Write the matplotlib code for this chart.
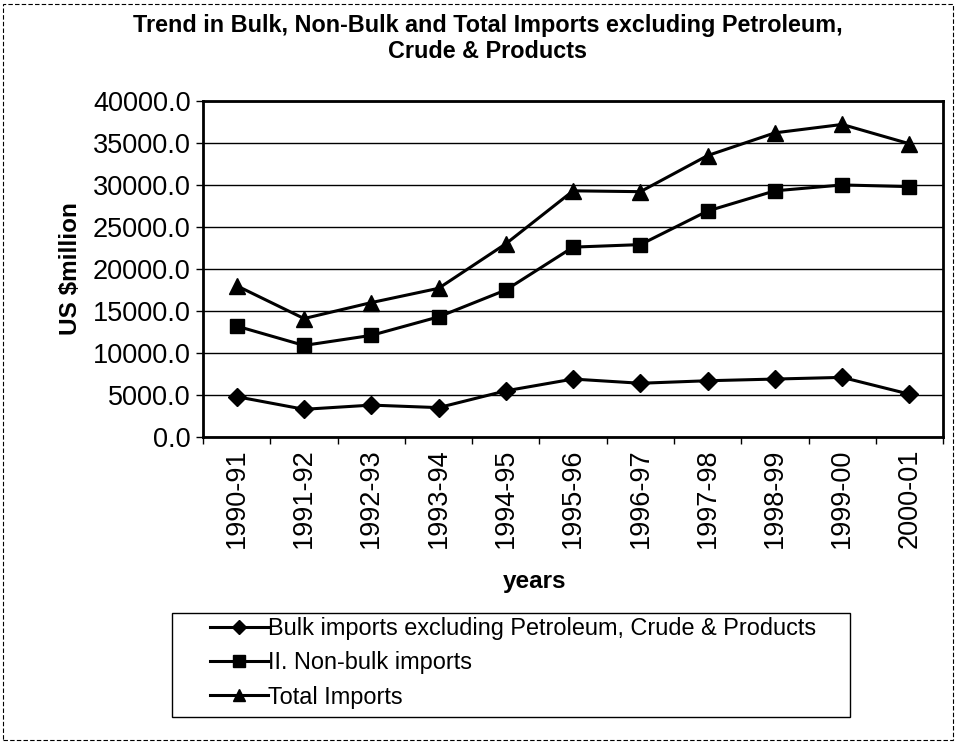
import matplotlib.pyplot as plt
from matplotlib.patches import Rectangle

plt.rcParams['font.family'] = ['Liberation Sans', 'DejaVu Sans']

# Imports by year, US $ million
years = ['1990-91', '1991-92', '1992-93', '1993-94', '1994-95', '1995-96',
         '1996-97', '1997-98', '1998-99', '1999-00', '2000-01']
bulk = [4800, 3300, 3800, 3500, 5500, 6900, 6400, 6700, 6900, 7100, 5100]
non_bulk = [13200, 10900, 12100, 14300, 17500, 22600, 22900, 26900, 29300, 30000, 29800]
total = [18000, 14100, 16000, 17700, 23000, 29300, 29200, 33500, 36200, 37200, 34900]

series_names = ['Bulk imports excluding Petroleum, Crude & Products',
                'II. Non-bulk imports',
                'Total Imports']

W, H = 956, 742
fig = plt.figure(figsize=(W / 100, H / 100), dpi=100)
ax = fig.add_axes([0.2125, 0.411, 0.774, 0.453])

x = range(len(years))
ax.plot(x, bulk, color='black', lw=2.2, marker='D', ms=9, label=series_names[0])
ax.plot(x, non_bulk, color='black', lw=2.2, marker='s', ms=10, label=series_names[1])
ax.plot(x, total, color='black', lw=2.2, marker='^', ms=11, label=series_names[2])

ax.set_xlim(-0.5, len(years) - 0.5)
ax.set_ylim(0, 40000)
ax.set_yticks(range(0, 40001, 5000))
ax.set_yticklabels([f'{v:.1f}' for v in range(0, 40001, 5000)], fontsize=19.5)
ax.yaxis.grid(True, color='black', lw=1)
ax.set_axisbelow(True)

# category labels at the centres, tick marks between categories
ax.set_xticks(list(x))
ax.set_xticklabels(years, rotation=90, fontsize=19.5)
ax.tick_params(axis='x', length=0, pad=8)
ax.set_xticks([i - 0.5 for i in range(len(years) + 1)], minor=True)
ax.tick_params(axis='x', which='minor', length=5, width=1, direction='out')
ax.tick_params(axis='y', length=5, width=1, direction='out', pad=4)

for s in ax.spines.values():
    s.set_linewidth(2)

fig.text(488 / W, 1 - 38.5 / H,
         'Trend in Bulk, Non-Bulk and Total Imports excluding Petroleum,\nCrude & Products',
         ha='center', va='center', fontsize=16.8, fontweight='bold', linespacing=1.2)
ax.set_ylabel('US $million', fontsize=17.5, fontweight='bold', labelpad=8)
fig.text(535 / W, 1 - 588 / H, 'years', ha='center', va='baseline',
         fontsize=17.5, fontweight='bold')

# legend, with its box drawn separately
leg = fig.legend(loc='upper left', bbox_to_anchor=(210 / W, 1 - 617 / H),
                 fontsize=16.9, frameon=False, handlelength=2.45,
                 handletextpad=0.0, borderpad=0, labelspacing=0.48,
                 borderaxespad=0, markerscale=0.8)
fig.patches.append(Rectangle((172 / W, 1 - 717 / H), (850 - 172) / W, (717 - 613) / H,
                             transform=fig.transFigure, fill=False,
                             edgecolor='black', lw=1))

# thin border round the whole chart
fig.patches.append(Rectangle((0.003, 0.003), 0.994, 0.992, transform=fig.transFigure,
                             fill=False, edgecolor='black', lw=0.8, ls=(0, (4, 2))))

fig.savefig('out.png', dpi=100)
